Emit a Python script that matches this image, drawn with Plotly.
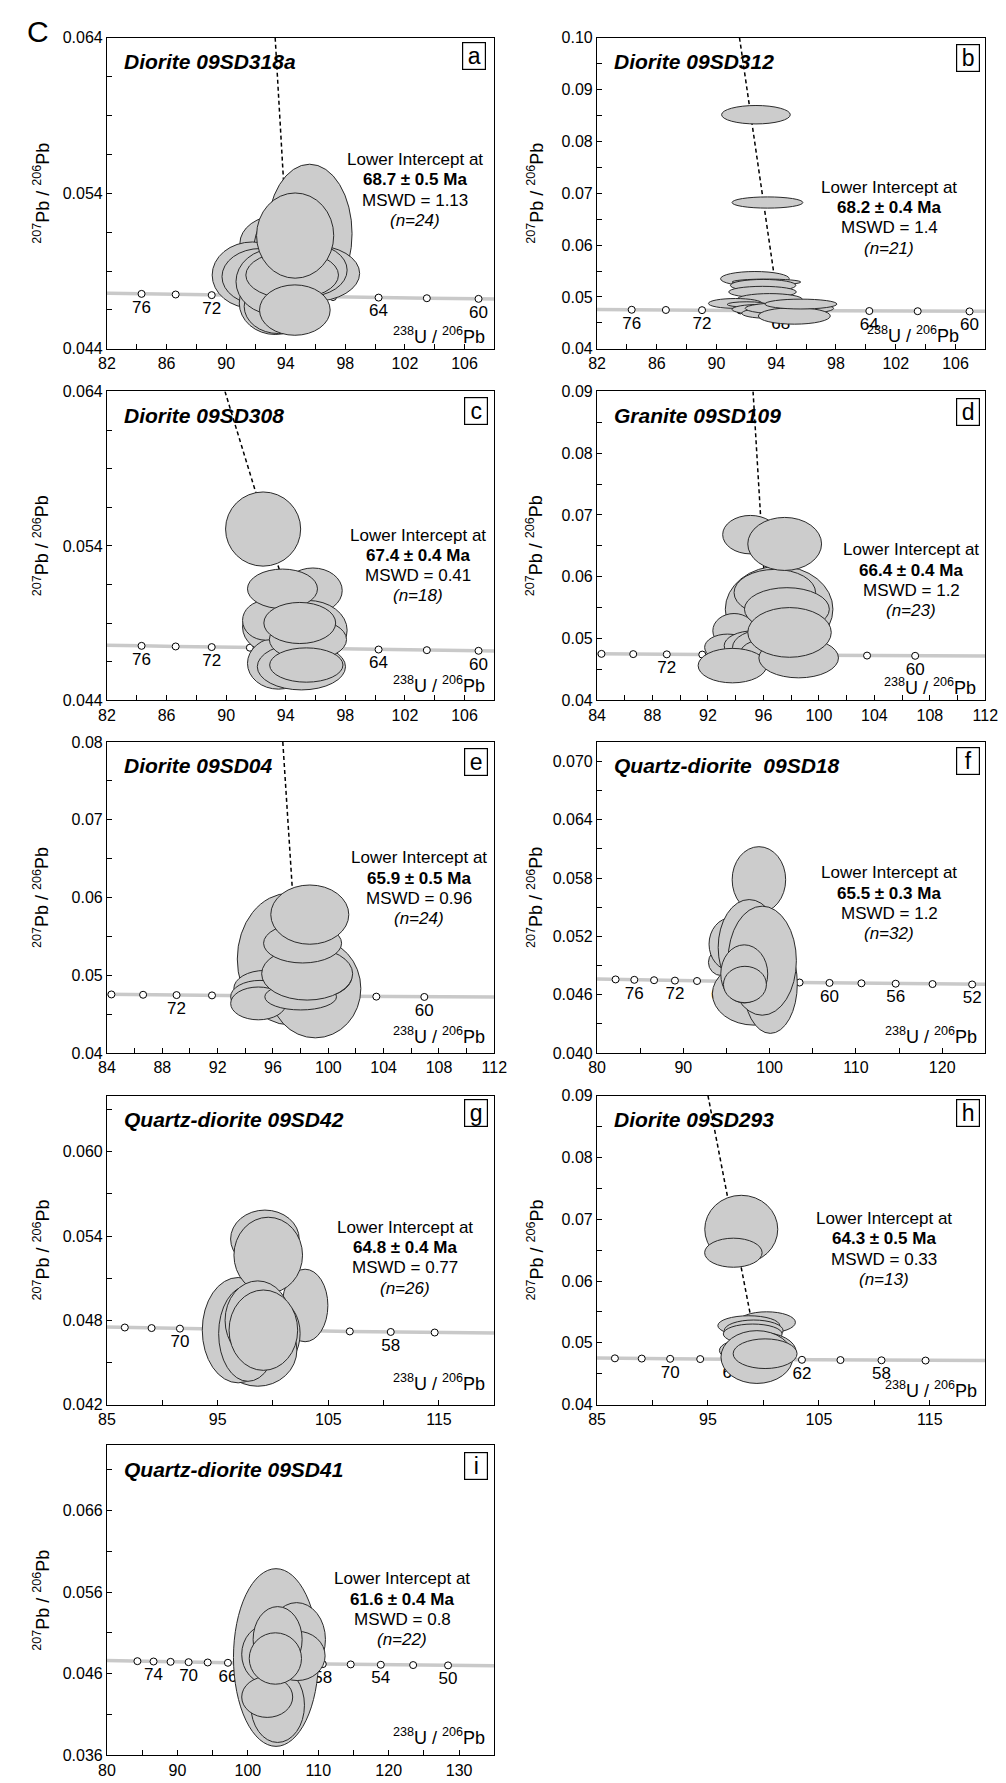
import numpy as np
import plotly.graph_objects as go

W, H = 1006, 1783
FONT = "Liberation Sans, Arial, Helvetica, sans-serif"

# ---------------- data ----------------
# Concordia age marks (Ma) and their coordinates (238U/206Pb, 207Pb/206Pb)
CONC_AGE = [46, 48, 50, 52, 54, 56, 58, 60, 62, 64, 66, 68, 70, 72, 74, 76, 78, 80, 82]
CONC_X = [139.64, 133.80, 128.43, 123.47, 118.88, 114.61, 110.64, 106.94, 103.47, 100.23,
          97.17, 94.30, 91.59, 89.03, 86.61, 84.32, 82.15, 80.08, 78.11]
CONC_Y = [0.046936, 0.046975, 0.047015, 0.047054, 0.047094, 0.047133, 0.047173, 0.047212,
          0.047252, 0.047292, 0.047331, 0.047371, 0.047411, 0.047451, 0.047491, 0.047531,
          0.047571, 0.047611, 0.047651]

# Error ellipses per sample: centre x, centre y, half-width x, half-height y
A_X = [95.60, 93.51, 94.28, 91.76, 92.31, 95.82, 95.49, 93.29, 93.51, 93.29, 94.43, 94.63, 94.61]
A_Y = [0.05140, 0.05077, 0.05013, 0.04874, 0.04864, 0.04885, 0.04906, 0.04694, 0.04672, 0.04832, 0.04874, 0.05128, 0.04649]
A_RX = [2.85, 2.59, 2.46, 2.70, 2.59, 3.14, 2.63, 2.41, 2.30, 2.63, 3.11, 2.59, 2.37]
A_RY = [0.00447, 0.00181, 0.00319, 0.00213, 0.00181, 0.00181, 0.00170, 0.00202, 0.00174, 0.00213, 0.00153, 0.00274, 0.00162]

B_X = [92.64, 93.41, 92.57, 93.34, 93.12, 93.08, 93.56, 91.26, 92.03, 92.90, 93.34, 94.88, 95.21, 95.65]
B_Y = [0.08516, 0.06822, 0.05351, 0.05288, 0.05224, 0.05097, 0.04951, 0.04875, 0.04856, 0.04761, 0.04685, 0.04780, 0.04634, 0.04863]
B_RX = [2.30, 2.37, 2.30, 2.30, 2.19, 2.26, 2.19, 1.80, 1.32, 1.86, 1.65, 2.96, 2.41, 2.41]
B_RY = [0.00178, 0.00108, 0.00140, 0.00057, 0.00114, 0.00108, 0.00114, 0.00095, 0.00051, 0.00095, 0.00095, 0.00114, 0.00159, 0.00095]

C_X = [92.48, 95.82, 95.49, 93.29, 93.51, 92.64, 95.05, 93.78, 95.49, 95.38, 94.94]
C_Y = [0.05509, 0.05111, 0.04854, 0.04875, 0.04640, 0.04918, 0.04618, 0.05122, 0.04794, 0.04629, 0.04901]
C_RX = [2.52, 1.97, 2.63, 2.19, 2.08, 1.54, 2.96, 2.35, 2.59, 2.46, 2.41]
C_RY = [0.00240, 0.00146, 0.00193, 0.00171, 0.00167, 0.00128, 0.00150, 0.00128, 0.00133, 0.00111, 0.00133]

D_X = [95.06, 97.13, 96.82, 93.88, 93.41, 95.29, 96.24, 96.94, 93.76, 97.53, 97.69, 98.54, 97.88]
D_Y = [0.06682, 0.05475, 0.05744, 0.05127, 0.04858, 0.04885, 0.04858, 0.04778, 0.04563, 0.06532, 0.05475, 0.04687, 0.05100]
D_RX = [2.00, 3.88, 2.94, 1.53, 1.65, 2.12, 2.47, 2.59, 2.47, 2.66, 3.06, 2.87, 3.01]
D_RY = [0.00311, 0.00697, 0.00376, 0.00279, 0.00215, 0.00241, 0.00295, 0.00241, 0.00279, 0.00429, 0.00349, 0.00322, 0.00402]

E_X = [97.18, 99.06, 98.82, 95.41, 95.06, 94.94, 98.00, 98.47, 98.14, 98.66]
E_Y = [0.05209, 0.04829, 0.04977, 0.04829, 0.04723, 0.04638, 0.04723, 0.05019, 0.05412, 0.05780]
E_RX = [3.76, 3.29, 2.87, 2.24, 2.12, 2.00, 2.59, 3.29, 2.82, 2.82]
E_RY = [0.00846, 0.00634, 0.00275, 0.00233, 0.00211, 0.00211, 0.00169, 0.00338, 0.00254, 0.00381]

F_X = [98.76, 94.42, 95.55, 98.20, 100.08, 97.63, 99.14, 97.06, 97.14]
F_Y = [0.05783, 0.04933, 0.05120, 0.04610, 0.04712, 0.05086, 0.04950, 0.04814, 0.04705]
F_RX = [3.10, 1.51, 2.57, 4.83, 3.13, 3.59, 3.96, 2.72, 2.49]
F_RY = [0.00340, 0.00136, 0.00272, 0.00323, 0.00510, 0.00493, 0.00561, 0.00299, 0.00187]

G_X = [99.27, 102.90, 100.39, 98.62, 96.85, 97.74, 99.57, 98.62, 99.13]
G_Y = [0.05379, 0.04906, 0.04706, 0.04589, 0.04730, 0.04706, 0.05264, 0.04800, 0.04730]
G_RX = [3.10, 2.06, 2.06, 3.54, 3.24, 2.65, 3.10, 2.95, 3.10]
G_RY = [0.00206, 0.00258, 0.00234, 0.00258, 0.00375, 0.00340, 0.00270, 0.00281, 0.00286]

H_X = [98.00, 97.29, 100.29, 98.68, 99.12, 99.03, 98.68, 99.71, 99.41, 100.15]
H_Y = [0.06837, 0.06458, 0.05331, 0.05278, 0.05198, 0.05144, 0.04877, 0.04851, 0.04770, 0.04824]
H_RX = [3.29, 2.59, 2.59, 2.79, 2.65, 2.65, 2.65, 3.24, 3.24, 2.88]
H_RY = [0.00550, 0.00235, 0.00171, 0.00160, 0.00171, 0.00160, 0.00187, 0.00320, 0.00427, 0.00240]

I_X = [104.00, 104.23, 106.93, 107.02, 102.84, 104.23, 102.75, 103.91]
I_Y = [0.04798, 0.04213, 0.05019, 0.04818, 0.04838, 0.05019, 0.04314, 0.04786]
I_RX = [6.04, 3.81, 4.09, 3.95, 3.71, 3.48, 3.62, 3.71]
I_RY = [0.01089, 0.00456, 0.00452, 0.00302, 0.00363, 0.00403, 0.00250, 0.00315]

# Discordia (dashed) line end points
A_DX, A_DY = [93.29, 94.30], [0.064, 0.0474]
B_DX, B_DY = [91.54, 94.20], [0.100, 0.0474]
C_DX, C_DY = [89.92, 95.20], [0.064, 0.0473]
D_DX, D_DY = [95.25, 96.40], [0.090, 0.0473]
E_DX, E_DY = [96.71, 97.90], [0.080, 0.0473]
H_DX, H_DY = [95.00, 99.60], [0.090, 0.0473]

# Sample names and results
TITLES = ["Diorite 09SD318a", "Diorite 09SD312", "Diorite 09SD308", "Granite 09SD109",
          "Diorite 09SD04", "Quartz-diorite\u00a0\u00a009SD18", "Quartz-diorite 09SD42",
          "Diorite 09SD293", "Quartz-diorite 09SD41"]
LETTERS = ["a", "b", "c", "d", "e", "f", "g", "h", "i"]
AGES = ["68.7 ± 0.5", "68.2 ± 0.4", "67.4 ± 0.4", "66.4 ± 0.4", "65.9 ± 0.5",
        "65.5 ± 0.3", "64.8 ± 0.4", "64.3 ± 0.5", "61.6 ± 0.4"]
MSWD = ["1.13", "1.4", "0.41", "1.2", "0.96", "1.2", "0.77", "0.33", "0.8"]
NPTS = [24, 21, 18, 23, 24, 32, 26, 13, 22]

# Tick labels
X_LAB_ABC = [82, 86, 90, 94, 98, 102, 106]
X_LAB_DE = [84, 88, 92, 96, 100, 104, 108, 112]
X_LAB_F = [80, 90, 100, 110, 120]
X_LAB_GH = [85, 95, 105, 115]
X_LAB_I = [80, 90, 100, 110, 120, 130]
Y_LAB_AC = ["0.044", "0.054", "0.064"]
Y_LAB_B = ["0.04", "0.05", "0.06", "0.07", "0.08", "0.09", "0.10"]
Y_LAB_DH = ["0.04", "0.05", "0.06", "0.07", "0.08", "0.09"]
Y_LAB_E = ["0.04", "0.05", "0.06", "0.07", "0.08"]
Y_LAB_F = ["0.040", "0.046", "0.052", "0.058", "0.064", "0.070"]
Y_LAB_G = ["0.042", "0.048", "0.054", "0.060"]
Y_LAB_I = ["0.036", "0.046", "0.056", "0.066"]

# Concordia age labels shown per panel, and age span of markers
AGE_LAB = [[76, 72, 68, 64, 60], [76, 72, 68, 64, 60], [76, 72, 68, 64, 60], [72, 60], [72, 60],
           [76, 72, 68, 64, 60, 56, 52], [70, 58], [70, 66, 62, 58], [74, 70, 66, 62, 58, 54, 50]]
AGE_SPAN = [(60, 76), (60, 76), (60, 76), (60, 76), (60, 76), (52, 78), (56, 74), (56, 74), (50, 76)]

# ---------------- layout config ----------------
LEFT, RIGHT = (92, 488), (593, 990)
ROWS = [(22, 336), (379, 691), (733, 1047), (1090, 1402), (1443, 1756)]

panels = [
    dict(px=LEFT, py=ROWS[0], xr=(82, 108), xs=2, xl=X_LAB_ABC, yr=(0.044, 0.064), ys=0.0025, yl=Y_LAB_AC,
         ell=(A_X, A_Y, A_RX, A_RY), dl=(A_DX, A_DY), txt=(407, 145), lab=(467, 40), xt=(480, 323)),
    dict(px=RIGHT, py=ROWS[0], xr=(82, 108), xs=2, xl=X_LAB_ABC, yr=(0.04, 0.10), ys=0.005, yl=Y_LAB_B,
         ell=(B_X, B_Y, B_RX, B_RY), dl=(B_DX, B_DY), txt=(892, 173), lab=(972, 42), xt=(965, 322)),
    dict(px=LEFT, py=ROWS[1], xr=(82, 108), xs=2, xl=X_LAB_ABC, yr=(0.044, 0.064), ys=0.0025, yl=Y_LAB_AC,
         ell=(C_X, C_Y, C_RX, C_RY), dl=(C_DX, C_DY), txt=(410, 524), lab=(469, 399), xt=(480, 675)),
    dict(px=RIGHT, py=ROWS[1], xr=(84, 112), xs=2, xl=X_LAB_DE, yr=(0.04, 0.09), ys=0.005, yl=Y_LAB_DH,
         ell=(D_X, D_Y, D_RX, D_RY), dl=(D_DX, D_DY), txt=(914, 539), lab=(972, 400), xt=(982, 677)),
    dict(px=LEFT, py=ROWS[2], xr=(84, 112), xs=2, xl=X_LAB_DE, yr=(0.04, 0.08), ys=0.005, yl=Y_LAB_E,
         ell=(E_X, E_Y, E_RX, E_RY), dl=(E_DX, E_DY), txt=(411, 850), lab=(469, 753), xt=(480, 1029)),
    dict(px=RIGHT, py=ROWS[2], xr=(80, 125), xs=5, xl=X_LAB_F, yr=(0.040, 0.072), ys=0.003, yl=Y_LAB_F,
         ell=(F_X, F_Y, F_RX, F_RY), dl=None, txt=(892, 865), lab=(972, 752), xt=(983, 1029)),
    dict(px=LEFT, py=ROWS[3], xr=(85, 120), xs=5, xl=X_LAB_GH, yr=(0.042, 0.064), ys=0.003, yl=Y_LAB_G,
         ell=(G_X, G_Y, G_RX, G_RY), dl=None, txt=(397, 1223), lab=(469, 1108), xt=(480, 1380)),
    dict(px=RIGHT, py=ROWS[3], xr=(85, 120), xs=5, xl=X_LAB_GH, yr=(0.04, 0.09), ys=0.005, yl=Y_LAB_DH,
         ell=(H_X, H_Y, H_RX, H_RY), dl=(H_DX, H_DY), txt=(886, 1214), lab=(972, 1108), xt=(983, 1387)),
    dict(px=LEFT, py=ROWS[4], xr=(80, 135), xs=5, xl=X_LAB_I, yr=(0.036, 0.074), ys=0.005, yl=Y_LAB_I,
         ell=(I_X, I_Y, I_RX, I_RY), dl=None, txt=(394, 1578), lab=(469, 1464), xt=(480, 1737)),
]


def ticks(lo, hi, step, labels):
    vals = np.round(np.arange(lo, hi + step * 0.01, step), 6)
    labvals = {round(float(l), 6): str(l) for l in labels}
    text = [labvals.get(round(float(v), 6), "") for v in vals]
    return list(vals), text


def px2paper(x, y):
    return x / W, 1 - y / H


fig = go.Figure()
shapes, annos = [], []
layout = {}

for k, p in enumerate(panels):
    n = k + 1
    xa = "x" if n == 1 else f"x{n}"
    ya = "y" if n == 1 else f"y{n}"
    xkey = "xaxis" if n == 1 else f"xaxis{n}"
    ykey = "yaxis" if n == 1 else f"yaxis{n}"
    xtv, xtt = ticks(p["xr"][0], p["xr"][1], p["xs"], p["xl"])
    ytv, ytt = ticks(p["yr"][0], p["yr"][1], p["ys"], p["yl"])
    common = dict(showgrid=False, zeroline=False, showline=True, mirror=True, linecolor="black",
                  linewidth=1.2, ticks="inside", ticklen=5, tickwidth=1, tickcolor="black",
                  tickfont=dict(family=FONT, size=16, color="black"), fixedrange=True)
    layout[xkey] = dict(domain=[p["px"][0] / W, p["px"][1] / W], range=list(p["xr"]), anchor=ya,
                        tickmode="array", tickvals=xtv, ticktext=xtt, **common)
    layout[ykey] = dict(domain=[1 - p["py"][1] / H, 1 - p["py"][0] / H], range=list(p["yr"]), anchor=xa,
                        tickmode="array", tickvals=ytv, ticktext=ytt, **common)

    # concordia curve
    fig.add_trace(go.Scatter(x=CONC_X, y=CONC_Y, xaxis=xa, yaxis=ya, mode="lines",
                             line=dict(color="#c9c9c9", width=3.5), hoverinfo="skip"))
    lo, hi = AGE_SPAN[k]
    mx = [cx for a, cx in zip(CONC_AGE, CONC_X) if lo <= a <= hi]
    my = [cy for a, cy in zip(CONC_AGE, CONC_Y) if lo <= a <= hi]
    fig.add_trace(go.Scatter(x=mx, y=my, xaxis=xa, yaxis=ya, mode="markers",
                             marker=dict(size=7, color="white", line=dict(color="black", width=1)),
                             hoverinfo="skip"))
    lx = [cx for a, cx in zip(CONC_AGE, CONC_X) if a in AGE_LAB[k]]
    ly = [cy for a, cy in zip(CONC_AGE, CONC_Y) if a in AGE_LAB[k]]
    lt = [str(a) for a in CONC_AGE if a in AGE_LAB[k]]
    fig.add_trace(go.Scatter(x=lx, y=ly, xaxis=xa, yaxis=ya, mode="markers+text", text=lt,
                             textposition="bottom center",
                             marker=dict(size=8, opacity=0),
                             textfont=dict(family=FONT, size=17, color="black"), hoverinfo="skip"))
    if p["dl"] is not None:
        fig.add_trace(go.Scatter(x=p["dl"][0], y=p["dl"][1], xaxis=xa, yaxis=ya, mode="lines",
                                 line=dict(color="black", width=1.5, dash="4px,3px"), hoverinfo="skip"))

    # ellipses
    ex, ey, erx, ery = p["ell"]
    for cx, cy, rx, ry in zip(ex, ey, erx, ery):
        shapes.append(dict(type="circle", xref=xa, yref=ya, x0=cx - rx, x1=cx + rx,
                           y0=cy - ry, y1=cy + ry, fillcolor="#cccccc",
                           line=dict(color="#2a2a2a", width=1), layer="above"))

    # title
    tx, ty = px2paper(p["px"][0] + 15, p["py"][0] + 24)
    annos.append(dict(x=tx, y=ty, xref="paper", yref="paper", xanchor="left", yanchor="middle",
                      text=f"<b><i>{TITLES[k]}</i></b>", showarrow=False,
                      font=dict(family=FONT, size=21, color="black")))
    # letter box
    bx, by = px2paper(*p["lab"])
    annos.append(dict(x=bx, y=by, xref="paper", yref="paper", xanchor="center", yanchor="middle",
                      text=LETTERS[k], showarrow=False, width=22, height=26, borderpad=0,
                      bordercolor="black", borderwidth=1.2, bgcolor="white",
                      font=dict(family=FONT, size=23, color="black")))
    # result text
    cxp, cyp = p["txt"]
    lines = ["Lower Intercept at", f"<b>{AGES[k]} Ma</b>", f"MSWD = {MSWD[k]}", f"<i>(n={NPTS[k]})</i>"]
    offs = [0, 20.5, 41, 61.5]
    for line, o in zip(lines, offs):
        ax_, ay_ = px2paper(cxp, cyp + o)
        annos.append(dict(x=ax_, y=ay_, xref="paper", yref="paper", xanchor="center", yanchor="middle",
                          text=line, showarrow=False, font=dict(family=FONT, size=17, color="black")))
    # x axis label inside plot
    xx, xy = px2paper(*p["xt"])
    annos.append(dict(x=xx, y=xy, xref="paper", yref="paper", xanchor="right", yanchor="middle",
                      text="<sup>238</sup>U / <sup>206</sup>Pb", showarrow=False,
                      font=dict(family=FONT, size=18, color="black")))
    # y axis title
    yxp = 25 if p["px"][0] < 300 else 530
    yx, yy = px2paper(yxp, (p["py"][0] + p["py"][1]) / 2)
    annos.append(dict(x=yx, y=yy, xref="paper", yref="paper", xanchor="center", yanchor="middle",
                      textangle=-90, text="<sup>207</sup>Pb / <sup>206</sup>Pb", showarrow=False,
                      font=dict(family=FONT, size=18, color="black")))

# big figure letter
cx_, cy_ = px2paper(21, 16)
annos.append(dict(x=cx_, y=cy_, xref="paper", yref="paper", xanchor="center", yanchor="middle",
                  text="C", showarrow=False, font=dict(family=FONT, size=30, color="black")))

fig.update_layout(width=W, height=H, autosize=False, margin=dict(l=0, r=0, t=0, b=0),
                  paper_bgcolor="white", plot_bgcolor="white", showlegend=False,
                  hovermode=False, shapes=shapes, annotations=annos, **layout)

fig.write_html("out.html")
